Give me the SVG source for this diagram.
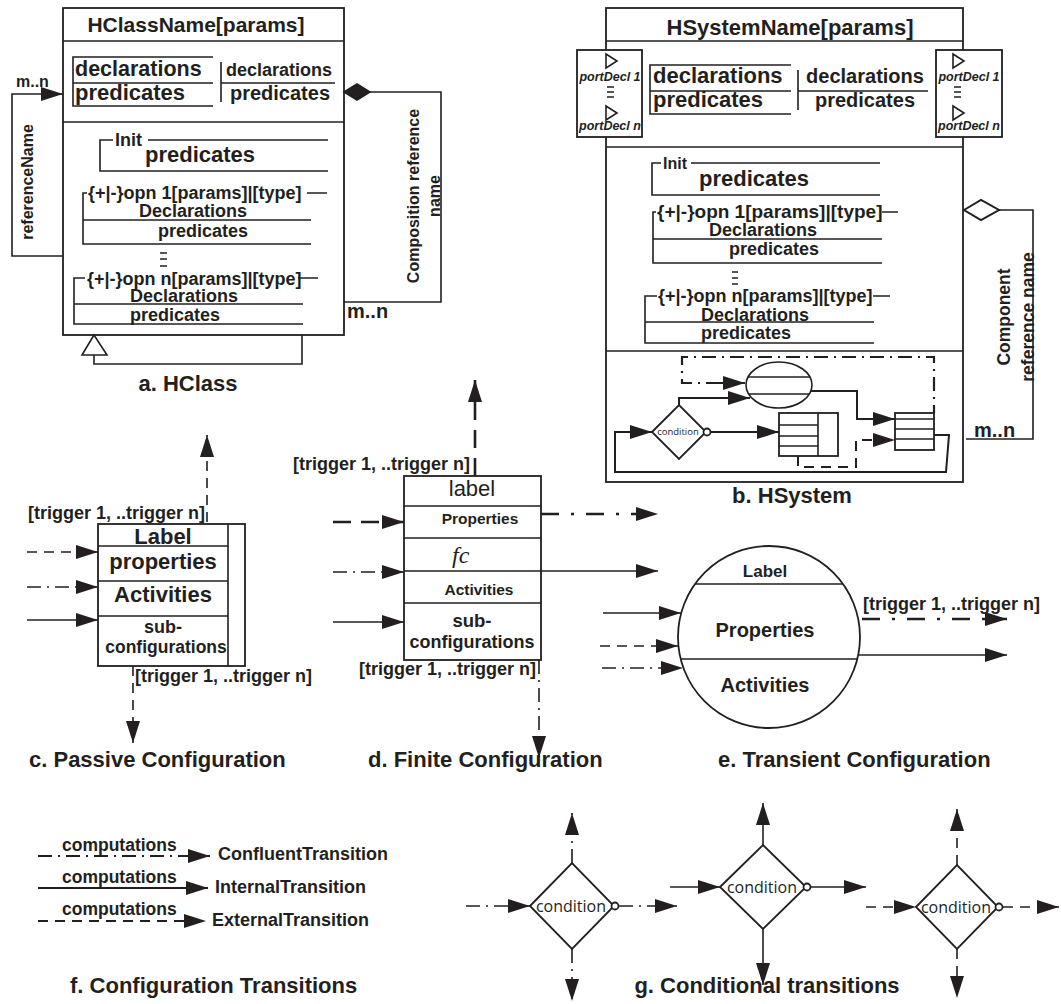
<svg xmlns="http://www.w3.org/2000/svg" width="1061" height="1004" viewBox="0 0 1061 1004">
<defs>
<style>
text{font-family:"Liberation Sans",Arial,sans-serif;font-weight:bold;fill:#231f20}
.m{text-anchor:middle}
.nw{font-weight:normal}
.fc{font-family:"Liberation Serif","Times New Roman",serif;font-style:italic;font-weight:normal}
.ln{fill:none;stroke:#231f20;stroke-width:1.6}
.bx{fill:#fff;stroke:#231f20;stroke-width:1.8}
.da{stroke-dasharray:10 7}
.dd{stroke-dasharray:14 6 2 6}
.ld{stroke-dasharray:18 10;stroke-width:2.6}
.ldd{stroke-dasharray:18 12 3 12;stroke-width:2.6}
.cond{font-family:"Open Sans","Liberation Sans",sans-serif;font-weight:normal}
</style>
<marker id="ah" viewBox="0 0 22 14" refX="22" refY="7" markerWidth="22" markerHeight="14" markerUnits="userSpaceOnUse" orient="auto"><path d="M0,0 L22,7 L0,14z" fill="#231f20"/></marker>
</defs>
<rect width="1061" height="1004" fill="#fff"/>

<!-- a. HClass -->
<g id="hclass">
<rect class="bx" x="63" y="8" width="281" height="327"/>
<path class="ln" d="M63,41H344M63,122H344"/>
<text class="m" x="196" y="32" font-size="21">HClassName[params]</text>
<path class="ln" d="M213,57H73V106H213M73,83H213M221,62V102M221,83H335"/>
<text x="75" y="76" font-size="21.5">declarations</text>
<text x="75" y="100" font-size="22">predicates</text>
<text class="m" x="279" y="76" font-size="18">declarations</text>
<text class="m" x="280" y="100" font-size="20">predicates</text>
<path class="ln" d="M113,140H100V171H328M148,140H328"/>
<text x="115" y="146" font-size="18">Init</text>
<text class="m" x="200" y="162" font-size="22">predicates</text>
<path class="ln" d="M87,193H83V244H311M83,220H311M307,193H327"/>
<text x="88" y="199" font-size="18">{+|-}opn 1[params]|[type]</text>
<text class="m" x="193" y="217" font-size="18">Declarations</text>
<text class="m" x="203" y="237" font-size="18">predicates</text>
<path class="ln" d="M160,253H167M160,259H167M160,266H167"/>
<path class="ln" d="M85,278H74V324H303M74,304H303M298,278H318"/>
<text x="87" y="285" font-size="18">{+|-}opn n[params]|[type]</text>
<text class="m" x="184" y="302" font-size="18">Declarations</text>
<text class="m" x="175" y="321" font-size="18">predicates</text>
</g>
<text class="m" x="188" y="391" font-size="22">a. HClass</text>

<!-- b. HSystem -->
<g id="hsystem">
<rect class="bx" x="606" y="8" width="357" height="474"/>
<path class="ln" d="M606,41H963M606,147H963M606,351H963"/>
<text class="m" x="790" y="35" font-size="22">HSystemName[params]</text>
<path class="ln" d="M791,65H650V114H791M650,91H791M798,70V110M798,91H928"/>
<text x="653" y="83" font-size="22">declarations</text>
<text x="653" y="107" font-size="22">predicates</text>
<text class="m" x="865" y="83" font-size="20">declarations</text>
<text class="m" x="865" y="107" font-size="20">predicates</text>
<path class="ln" d="M661,163H652V195H880M691,163H880"/>
<text x="663" y="169" font-size="16">Init</text>
<text class="m" x="754" y="186" font-size="22">predicates</text>
<path class="ln" d="M656,212H653V263H882M653,239H882M882,212H898"/>
<text x="657" y="218" font-size="19">{+|-}opn 1[params]|[type]</text>
<text class="m" x="763" y="236" font-size="18">Declarations</text>
<text class="m" x="774" y="255" font-size="18">predicates</text>
<path class="ln" d="M732,272H738M732,278H738M732,284H738"/>
<path class="ln" d="M657,296H645V343H874M645,322H874M873,296H890"/>
<text x="658" y="302" font-size="18">{+|-}opn n[params]|[type]</text>
<text class="m" x="755" y="321" font-size="18">Declarations</text>
<text class="m" x="746" y="339" font-size="18">predicates</text>
</g>
<g id="port-left">
<rect class="bx" x="577" y="50" width="65" height="87" stroke-width="1.5"/>
<path class="ln" d="M606,54L617,61L606,68ZM606,106L617,113L606,120ZM607,87H614M607,92H614M607,97H614" stroke-width="1.3"/>
<text class="m" x="610" y="81" font-size="12.5" font-style="italic">portDecl 1</text>
<text class="m" x="610" y="130" font-size="12.5" font-style="italic">portDecl n</text>
</g>
<g id="port-right">
<rect class="bx" x="936" y="50" width="66" height="87" stroke-width="1.5"/>
<path class="ln" d="M953,54L964,61L953,68ZM953,106L964,113L953,120ZM954,87H961M954,92H961M954,97H961" stroke-width="1.3"/>
<text class="m" x="969" y="81" font-size="12.5" font-style="italic">portDecl 1</text>
<text class="m" x="969" y="130" font-size="12.5" font-style="italic">portDecl n</text>
</g>
<g id="hs-ellipse">
<ellipse class="ln" cx="779" cy="385" rx="33" ry="23" stroke-width="2"/>
<path class="ln" d="M748,377H810M749,394H809" stroke-width="2"/>
</g>
<g id="hs-condition">
<polygon class="bx" points="652,432 679,405 706,432 679,459" stroke-width="2"/>
<circle class="bx" cx="707" cy="432" r="3.5" stroke-width="1.3"/>
<text class="m cond" x="678" y="435" font-size="9.5">condition</text>
</g>
<g id="hs-box1">
<rect class="bx" x="779" y="413" width="59" height="43" stroke-width="2"/>
<path class="ln" d="M818,413V456M779,425H818M779,436H818M779,446H818" stroke-width="2"/>
</g>
<g id="hs-box2">
<rect class="bx" x="895" y="413" width="39" height="37" stroke-width="2"/>
<path class="ln" d="M895,419H934M895,429H934M895,439H934" stroke-width="2"/>
</g>
<text class="m" x="792" y="503" font-size="22">b. HSystem</text>

<!-- c. Passive -->
<g id="passive">
<rect class="bx" x="98" y="524" width="147" height="142"/>
<path class="ln" d="M228,524V666M98,546H228M98,581H228M98,616H228"/>
<text class="m" x="163" y="544" font-size="22">Label</text>
<text class="m" x="163" y="569" font-size="22">properties</text>
<text class="m" x="163" y="602" font-size="22">Activities</text>
<text class="m" x="163" y="633" font-size="18">sub-</text>
<text class="m" x="166" y="653" font-size="17.5">configurations</text>
</g>
<text x="28" y="519" font-size="18">[trigger 1, ..trigger n]</text>
<text x="135" y="682" font-size="18">[trigger 1, ..trigger n]</text>
<text x="29" y="767" font-size="22">c. Passive Configuration</text>

<!-- d. Finite -->
<g id="finite">
<rect class="bx" x="404" y="476" width="137" height="184"/>
<path class="ln" d="M404,506H541M404,538H541M404,571H541M404,603H541"/>
<text class="m nw" x="472" y="496" font-size="22">label</text>
<text class="m" x="480" y="524" font-size="15.5">Properties</text>
<text class="fc" x="452" y="563" font-size="24">fc</text>
<text class="m" x="479" y="595" font-size="15.5">Activities</text>
<text class="m" x="472" y="627" font-size="18.5">sub-</text>
<text class="m" x="472" y="648" font-size="18">configurations</text>
</g>
<text x="293" y="470" font-size="18">[trigger 1, ..trigger n]</text>
<text x="359" y="675" font-size="18">[trigger 1, ..trigger n]</text>
<text x="368" y="767" font-size="22">d. Finite Configuration</text>

<!-- e. Transient -->
<g id="transient">
<circle class="bx" cx="769" cy="637" r="91" stroke-width="2.2"/>
<path class="ln" d="M695,584H843M681,659H857" stroke-width="1.8"/>
<text class="m" x="765" y="577" font-size="17">Label</text>
<text class="m" x="765" y="637" font-size="20">Properties</text>
<text class="m" x="765" y="692" font-size="20">Activities</text>
</g>
<text x="863" y="610" font-size="18">[trigger 1, ..trigger n]</text>
<text x="718" y="767" font-size="22">e. Transient Configuration</text>

<!-- f. legend -->
<g id="legend">
<text x="62" y="851" font-size="17.5">computations</text>
<text x="218" y="860" font-size="18">ConfluentTransition</text>
<text x="62" y="883" font-size="17.5">computations</text>
<text x="215" y="893" font-size="18">InternalTransition</text>
<text x="62" y="915" font-size="17.5">computations</text>
<text x="212" y="926" font-size="18">ExternalTransition</text>
</g>
<text x="70" y="993" font-size="22">f. Configuration Transitions</text>

<!-- g. conditional -->
<g id="cond1">
<polygon class="bx" points="530,906 572,863 614,906 572,949"/>
<text class="m cond" x="571" y="912" font-size="16">condition</text>
<circle class="bx" cx="615" cy="906" r="3.5" stroke-width="1.3"/>
</g>
<g id="cond2">
<polygon class="bx" points="720,887 763,845 806,887 763,929"/>
<text class="m cond" x="762" y="893" font-size="16">condition</text>
<circle class="bx" cx="807" cy="887" r="3.5" stroke-width="1.3"/>
</g>
<g id="cond3">
<polygon class="bx" points="916,907 957,865 998,907 957,949"/>
<text class="m cond" x="956" y="913" font-size="16">condition</text>
<circle class="bx" cx="999" cy="907" r="3.5" stroke-width="1.3"/>
</g>
<text class="m" x="767" y="993" font-size="22">g. Conditional transitions</text>

<!-- connectors -->
<g id="connectors" class="ln">
<path d="M63,256H12V94H63" marker-end="url(#ah)"/>
<path d="M94,355V364H302V335"/>
<polygon points="94,335 82,355 107,355" fill="#fff"/>
<path d="M370,92H441V302H344"/>
<polygon points="344,92 357,84 370,92 357,100" fill="#231f20"/>
<path d="M999,210H1033V439H966"/>
<polygon points="964,210 981,200 999,210 981,220" fill="#fff" stroke-width="2"/>
<path class="dd" d="M720,383H682V357H934V413" stroke-width="2.2"/>
<path d="M720,383H745" stroke-width="2" marker-end="url(#ah)"/>
<path d="M679,405V398H750" stroke-width="2" marker-end="url(#ah)"/>
<path d="M934,435H949L946,472H615V432H652" stroke-width="2" marker-end="url(#ah)"/>
<path d="M711,432H779" stroke-width="2" marker-end="url(#ah)"/>
<path d="M811,391H857V419H895" stroke-width="2" marker-end="url(#ah)"/>
<path class="da" d="M798,456V467H856V440H895" stroke-width="2" marker-end="url(#ah)"/>
<path class="da" d="M207,522V435" marker-end="url(#ah)"/>
<path class="da" d="M27,552H98" marker-end="url(#ah)"/>
<path class="dd" d="M27,587H98" marker-end="url(#ah)"/>
<path d="M27,620H98" marker-end="url(#ah)"/>
<path class="da" d="M133,666V743" marker-end="url(#ah)"/>
<path class="ld" d="M475,476V380" marker-end="url(#ah)"/>
<path class="ld" d="M333,522H404" marker-end="url(#ah)"/>
<path class="dd" d="M333,572H404" marker-end="url(#ah)"/>
<path d="M333,622H404" marker-end="url(#ah)"/>
<path class="ldd" d="M541,514H658" marker-end="url(#ah)"/>
<path d="M541,571H658" marker-end="url(#ah)"/>
<path class="dd" d="M539,660V758" marker-end="url(#ah)"/>
<path d="M603,613H681" marker-end="url(#ah)"/>
<path class="da" d="M600,646H678" marker-end="url(#ah)"/>
<path class="dd" d="M602,668H683" marker-end="url(#ah)"/>
<path class="ldd" d="M862,619H1007" marker-end="url(#ah)"/>
<path d="M858,655H1007" marker-end="url(#ah)"/>
<path class="dd" d="M38,856H210" stroke-width="2.2" marker-end="url(#ah)"/>
<path d="M38,888H208" stroke-width="2.2" marker-end="url(#ah)"/>
<path class="da" d="M38,921H206" stroke-width="2.2" marker-end="url(#ah)"/>
<path class="dd" d="M466,906H530" marker-end="url(#ah)"/>
<path class="dd" d="M619,906H677" marker-end="url(#ah)"/>
<path class="dd" d="M572,863V813" marker-end="url(#ah)"/>
<path class="dd" d="M572,949V1001" marker-end="url(#ah)"/>
<path d="M670,887H720" marker-end="url(#ah)"/>
<path d="M811,887H866" marker-end="url(#ah)"/>
<path d="M763,845V803" marker-end="url(#ah)"/>
<path d="M763,929V985" marker-end="url(#ah)"/>
<path class="da" d="M866,907H916" marker-end="url(#ah)"/>
<path class="da" d="M1003,907H1059" marker-end="url(#ah)"/>
<path class="da" d="M957,865V809" marker-end="url(#ah)"/>
<path class="da" d="M957,949V998" marker-end="url(#ah)"/>
</g>
<text class="m" transform="translate(33,182) rotate(-90)" font-size="16">referenceName</text>
<text x="16" y="87" font-size="16">m..n</text>
<text class="m" transform="translate(419,196) rotate(-90)" font-size="16">Composition reference</text>
<text class="m" transform="translate(440,196) rotate(-90)" font-size="16">name</text>
<text x="347" y="318" font-size="20">m..n</text>
<text class="m" transform="translate(1010,317) rotate(-90)" font-size="17.5">Component</text>
<text class="m" transform="translate(1034,317) rotate(-90)" font-size="17.5">reference name</text>
<text x="974" y="437" font-size="20">m..n</text>
</svg>
